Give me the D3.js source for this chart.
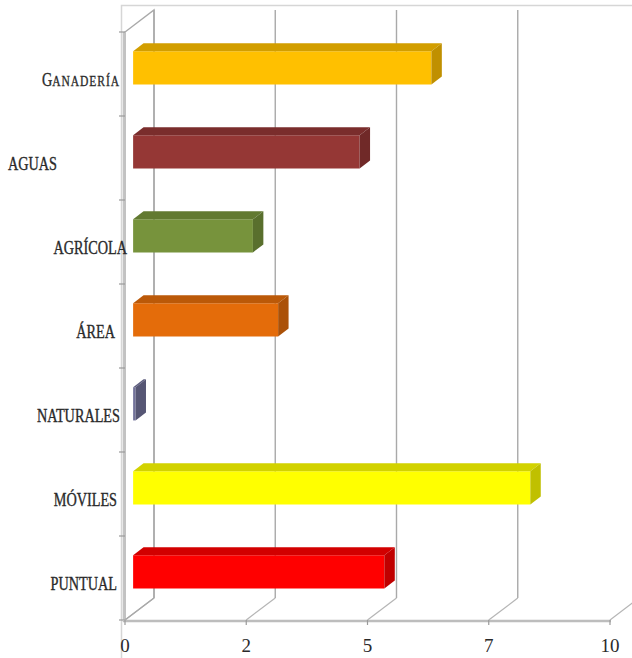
<!DOCTYPE html>
<html>
<head>
<meta charset="utf-8">
<script src="https://cdn.jsdelivr.net/npm/d3@7/dist/d3.min.js"></script>
<style>
  html, body { margin: 0; padding: 0; background: #ffffff; }
  svg { display: block; }
</style>
</head>
<body>
<svg id="chart" width="632" height="658"></svg>
<script>
// ---- data ----
const categories = ["Ganadería", "Aguas", "Agrícola", "Área", "Naturales", "Móviles", "Puntual"];
const categoryLabels = ["GANADERÍA", "AGUAS", "AGRÍCOLA", "ÁREA", "NATURALES", "MÓVILES", "PUNTUAL"];
const values = [6.15, 4.67, 2.47, 2.99, 0.05, 8.19, 5.18];
const barColors = ["#FFC000", "#953735", "#77933C", "#E46C0A", "#72729A", "#FFFF00", "#FF0000"];
const tickValues = [0, 2.5, 5, 7.5, 10];
const tickLabels = ["0", "2", "5", "7", "10"];

// ---- layout ----
const W = 632, H = 658;
const plotL = 125, plotR = 610, plotT = 32, plotB = 620;
const depthDX = 29, depthDY = -22;          // oblique projection of full depth
const barFront = 0.28, barBack = 0.64;       // depth positions of bar faces
const labelNudge = [-5, -68, 2, -10, -5, -8, -8]; // label right edge relative to axis

const svg = d3.select("#chart");
const x = d3.scaleLinear().domain([0, 10]).range([plotL, plotR]);
const y = d3.scaleBand().domain(categories).range([plotT, plotB]).padding(0);
const P = (px, py, d) => [px + d * depthDX, py + d * depthDY];

const grid = "#a9a9a9";

// outer border
svg.append("path")
  .attr("d", `M121.5,${H} L121.5,5.5 L${W},5.5`)
  .attr("fill", "none").attr("stroke", "#d6d6d6").attr("stroke-width", 1.5);

// back wall gridlines + floor diagonals
tickValues.forEach(t => {
  const a = P(x(t), plotB, 1), b = P(x(t), plotT, 1);
  svg.append("line").attr("x1", a[0]).attr("y1", a[1]).attr("x2", b[0]).attr("y2", b[1])
    .attr("stroke", grid).attr("stroke-width", 1.4);
  const f = P(x(t), plotB, 0);
  svg.append("line").attr("x1", f[0]).attr("y1", f[1]).attr("x2", a[0]).attr("y2", a[1])
    .attr("stroke", "#b5b5b5").attr("stroke-width", 1.2);
});

// left wall
{
  const ft = P(plotL, plotT, 0), bt = P(plotL, plotT, 1), bb = P(plotL, plotB, 1), fb = P(plotL, plotB, 0);
  svg.append("path")
    .attr("d", `M${fb[0]},${fb[1]} L${ft[0]},${ft[1]} L${bt[0]},${bt[1]} L${bb[0]},${bb[1]} L${fb[0]},${fb[1]}`)
    .attr("fill", "none").attr("stroke", grid).attr("stroke-width", 1.4);
  svg.append("line").attr("x1", plotL - 1.5).attr("y1", plotT).attr("x2", plotL - 1.5).attr("y2", plotB + 2)
    .attr("stroke", "#c4c4c4").attr("stroke-width", 1.5);
}

// left axis ticks
const bounds = categories.map(c => y(c)).concat([plotB]);
bounds.forEach(b => {
  svg.append("line").attr("x1", plotL - 6).attr("y1", b).attr("x2", plotL).attr("y2", b)
    .attr("stroke", "#9a9a9a").attr("stroke-width", 1.2);
});

// floor front line + ticks
svg.append("line").attr("x1", plotL - 2).attr("y1", plotB + 1).attr("x2", plotR + 1).attr("y2", plotB + 1)
  .attr("stroke", "#bdbdbd").attr("stroke-width", 2.6);
tickValues.forEach(t => {
  svg.append("line").attr("x1", x(t)).attr("y1", plotB).attr("x2", x(t)).attr("y2", plotB + 5)
    .attr("stroke", "#9a9a9a").attr("stroke-width", 1.2);
});

// bars
const barH = y.bandwidth() * 0.395;
const poly = pts => "M" + pts.map(p => p.join(",")).join("L") + "Z";
categories.forEach((c, i) => {
  const col = d3.color(barColors[i]);
  const cy = y(c) + y.bandwidth() / 2;
  const y0 = cy - barH / 2, y1 = cy + barH / 2;
  const xl = x(0), xr = x(values[i]);
  const f = (px, py) => P(px, py, barFront);
  const b = (px, py) => P(px, py, barBack);
  const g = svg.append("g");
  g.append("path").attr("d", poly([f(xl, y0), f(xr, y0), f(xr, y1), f(xl, y1)]))
    .attr("fill", col.formatHex());
  g.append("path").attr("d", poly([f(xl, y0), b(xl, y0), b(xr, y0), f(xr, y0)]))
    .attr("fill", col.darker(0.55).formatHex());
  g.append("path").attr("d", poly([f(xr, y0), b(xr, y0), b(xr, y1), f(xr, y1)]))
    .attr("fill", col.darker(0.8).formatHex());
});

// category labels
categories.forEach((c, i) => {
  const cy = y(c) + y.bandwidth() / 2;
  const g = svg.append("g").attr("transform", `translate(${plotL + labelNudge[i]},${cy + 12}) scale(0.77,1)`);
  const t = g.append("text").attr("text-anchor", "end")
    .attr("font-family", "'Liberation Serif', 'DejaVu Serif', serif")
    .attr("font-size", 18.5).attr("fill", "#2a2a2a")
    .attr("stroke", "#2a2a2a").attr("stroke-width", 0.35);
  const lab = categoryLabels[i];
  if (i === 0) {
    t.append("tspan").text(lab[0]);
    t.append("tspan").attr("font-size", 15).attr("letter-spacing", 1.2).text(lab.slice(1));
  } else {
    t.text(lab);
  }
});

// x tick labels
tickValues.forEach((t, i) => {
  svg.append("text").attr("x", x(t)).attr("y", 652)
    .attr("text-anchor", "middle")
    .attr("font-family", "'Liberation Serif', 'DejaVu Serif', serif")
    .attr("font-size", 19).attr("fill", "#2a2a2a")
    .text(tickLabels[i]);
});
</script>
</body>
</html>
